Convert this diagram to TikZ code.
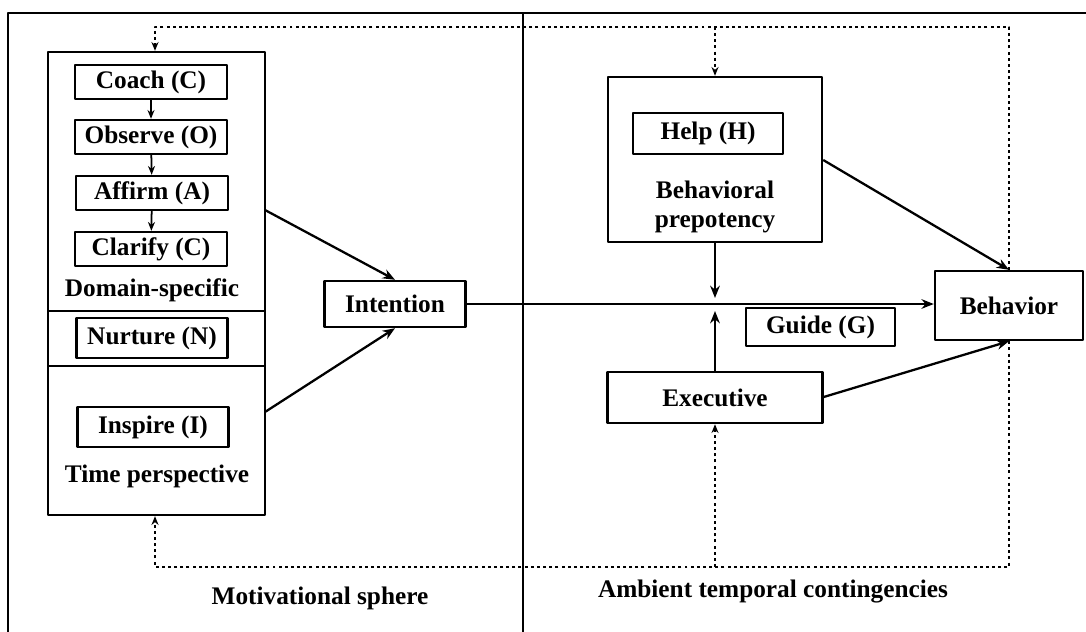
\documentclass[tikz,border=0pt]{standalone}
\usepackage{fontspec}
\setmainfont{Liberation Serif}
\usetikzlibrary{arrows.meta}
\tikzset{
  box/.style={draw, line width=1.4pt, inner sep=0pt, align=center},
  lbl/.style={inner sep=0pt, align=center},
  link/.style={line width=1.3pt, -{Stealth[length=7pt,width=5.5pt]}},
  small/.style={line width=1pt, -{Stealth[length=5pt,width=4pt]}},
  fb/.style={line width=1.6pt, dash pattern=on 1.7pt off 1.8pt, -{Stealth[length=5pt,width=4pt]}}
}
\begin{document}
\begin{tikzpicture}[x=0.02cm, y=-0.02cm, font=\bfseries\fontsize{14.4}{17}\selectfont, line join=round]
	\useasboundingbox (0,0) rectangle (1086,632);
	% frame and divider
	\draw[line width=1.3pt] (8,632)--(8,13)--(1086,13);
	\draw[line width=1.3pt] (523,13)--(523,632);
	% motivational sphere
	\node[box, minimum width=4.34cm, minimum height=9.26cm] (motiv) at (156.5,283.5) {};
	\draw[line width=1.4pt] (48,311)--(265,311);
	\draw[line width=1.4pt] (48,366)--(265,366);
	\node[box, minimum width=3.04cm, minimum height=0.68cm] (coach) at (151,82) {Coach (C)};
	\node[box, minimum width=3.04cm, minimum height=0.68cm] (observe) at (151,137) {Observe (O)};
	\node[box, minimum width=3.04cm, minimum height=0.68cm] (affirm) at (152,193) {Affirm (A)};
	\node[box, minimum width=3.04cm, minimum height=0.68cm] (clarify) at (151,249) {Clarify (C)};
	\node[lbl] (domain) at (152,290) {Domain-specific};
	\node[box, minimum width=3.02cm, minimum height=0.8cm] (nurture) at (152,338) {Nurture (N)};
	\node[box, minimum width=3.02cm, minimum height=0.8cm] (inspire) at (153,427) {Inspire (I)};
	\node[lbl] (timeper) at (157,476) {Time perspective};
	\draw[small] (coach) -- (observe);
	\draw[small] (observe) -- (affirm);
	\draw[small] (affirm) -- (clarify);
	% intention
	\node[box, minimum width=2.82cm, minimum height=0.92cm] (intent) at (395,304) {Intention};
	\coordinate (dsout) at (265,210);
	\coordinate (tpout) at (265,412);
	\draw[link] (dsout) -- (intent.north);
	\draw[link] (tpout) -- (intent.south);
	% ambient contingencies
	\node[box, minimum width=4.28cm, minimum height=3.3cm] (prepot) at (715,159.5) {};
	\node[box, minimum width=3cm, minimum height=0.82cm] (help) at (708,133.5) {Help (H)};
	\node[lbl] (prepotlbl) at (715,207) {Behavioral\\prepotency};
	\node[box, minimum width=4.3cm, minimum height=1.02cm] (exec) at (715,397.5) {Executive};
	\node[box, minimum width=2.98cm, minimum height=0.76cm] (guide) at (820.5,327) {Guide (G)};
	\node[box, minimum width=2.96cm, minimum height=1.38cm] (behav) at (1009,305.5) {Behavior};
	\coordinate (ptop) at (715,298);
	\coordinate (pbot) at (715,311);
	\draw[link] (intent.east) -- (behav.west |- intent.east);
	\draw[link] (prepot.south) -- (ptop);
	\draw[link] (exec.north) -- (pbot);
	\draw[link] (prepot.east |- 0,160) -- (behav.north);
	\draw[link] (exec.east |- 0,397) -- (behav.south);
	% feedback loops
	\coordinate (tr) at (1009,27);
	\coordinate (tl) at (155,27);
	\coordinate (tm) at (715,27);
	\coordinate (br) at (1009,567);
	\coordinate (bl) at (155,567);
	\coordinate (bm) at (715,567);
	\draw[fb] (behav.north) -- (tr) -- (tl) -- (motiv.north -| tl);
	\draw[fb] (tm) -- (prepot.north);
	\draw[fb] (behav.south) -- (br) -- (bl) -- (motiv.south -| bl);
	\draw[fb] (bm) -- (exec.south);
	% sphere labels
	\node[lbl] (motivlbl) at (320,598) {Motivational sphere};
	\node[lbl] (ambientlbl) at (773,592) {Ambient temporal contingencies};
\end{tikzpicture}
\end{document}
